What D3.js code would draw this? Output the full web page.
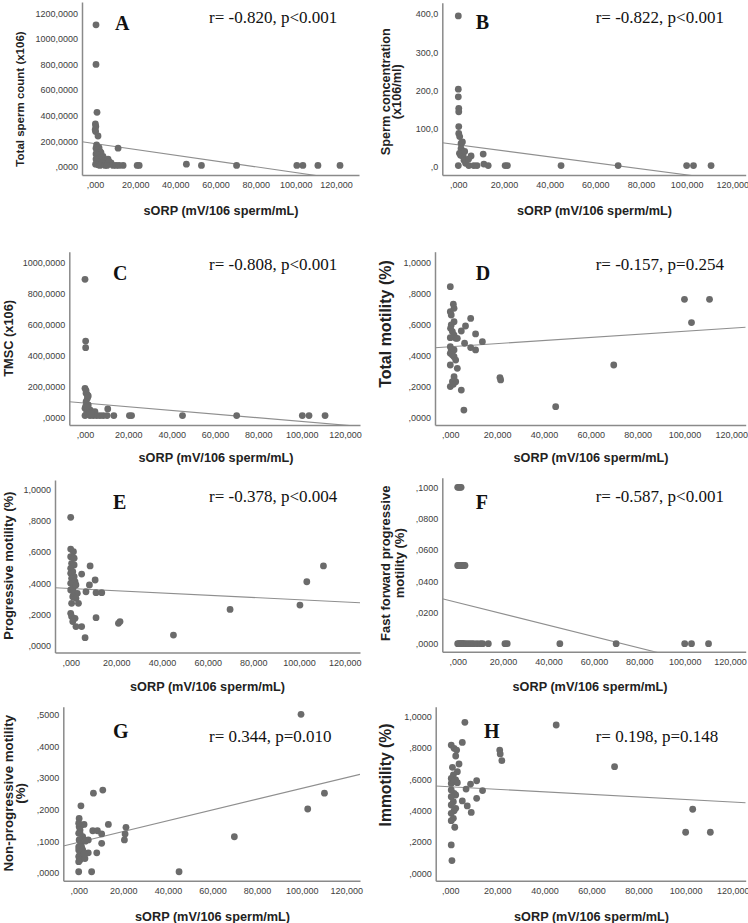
<!DOCTYPE html>
<html><head><meta charset="utf-8">
<script src="https://cdn.jsdelivr.net/npm/d3@7"></script>
<style>
html,body{margin:0;padding:0;background:#fff;}
svg{display:block;}
</style></head>
<body>
<svg id="chart" width="748" height="923"></svg>
<script>
// ---------------- DATA ----------------
const xTicks = [0, 20, 40, 60, 80, 100, 120];
const xTitle = "sORP (mV/106 sperm/mL)";

const panelIds = ["A","B","C","D","E","F","G","H"];
const yTitles = {
  A: ["Total sperm count (x106)"],
  B: ["Sperm concentration", "(x106/ml)"],
  C: ["TMSC (x106)"],
  D: ["Total motility (%)"],
  E: ["Progressive motility (%)"],
  F: ["Fast forward progressive", "motility (%)"],
  G: ["Non-progressive motility", "(%)"],
  H: ["Immotility (%)"]
};
const statLabels = {
  A: "r= -0.820, p<0.001", B: "r= -0.822, p<0.001",
  C: "r= -0.808, p<0.001", D: "r= -0.157, p=0.254",
  E: "r= -0.378, p<0.004", F: "r= -0.587, p<0.001",
  G: "r= 0.344, p=0.010",  H: "r= 0.198, p=0.148"
};
const yTicksA = [0,200,400,600,800,1000,1200];
const yTicksB = [0,100,200,300,400];
const yTicksC = [0,200,400,600,800,1000];
const yTicksD = [0,0.2,0.4,0.6,0.8,1.0];
const yTicksE = [0,0.2,0.4,0.6,0.8,1.0];
const yTicksF = [0,0.02,0.04,0.06,0.08,0.10];
const yTicksG = [0,0.1,0.2,0.3,0.4,0.5];
const yTicksH = [0,0.2,0.4,0.6,0.8,1.0];

// fit line: [intercept, slope]
const fitA = [180.9, -2.271];
const fitB = [57.4, -0.788];
const fitC = [92.0, -1.1886];
const fitD = [0.457, 0.000992];
const fitE = [0.3659, -0.000718];
const fitF = [0.02628, -0.0003625];
const fitG = [0.0965, 0.001708];
const fitH = [0.5525, -0.00081];

const pointsA = [[0.5,1110],[0.5,800],[1.0,425],[0.2,335],[0.4,315],[0.1,290],[0.3,275],[1.5,240],[0.8,170],[2,150],[0.5,145],[1,130],[2.5,120],[3,110],[0.5,100],[1.5,90],[4,80],[3,70],[0.5,60],[2,55],[5,50],[6.5,60],[7,40],[1,40],[3.5,30],[8,30],[0.3,20],[1.5,15],[2.5,10],[5,10],[6,10],[9,10],[10.5,10],[12,10],[14,10],[11.5,145],[21,10],[22,10],[45.5,20],[53,10],[70.5,10],[100.5,10],[103.5,10],[111,10],[122,10]];
const pointsB = [[0,395],[0,203],[0,183],[0.2,153],[0.2,144],[0.2,105],[0.2,87],[0.6,79],[1.2,61],[1.8,65],[1.2,48],[1.8,39],[2.2,26],[2.5,17],[3.2,9],[5.6,28],[4.5,20],[1,30],[0.5,35],[2.8,40],[10.9,33],[0,3],[4.6,3],[6.8,3],[8.2,3],[11.2,7],[13.1,3],[20.5,3],[21.5,3],[45,3],[70,3],[100,3],[103,3],[110.7,3]];
const pointsC = [[0,890],[0.3,492],[0.3,449],[0,187],[0.5,172],[0.5,155],[1.1,144],[1.5,138],[1.1,123],[0.5,101],[1.5,80],[0,58],[1.1,47],[2.3,47],[3.1,37],[4.6,37],[10.5,54],[0,11],[2.3,11],[3.8,11],[5.4,11],[6.9,11],[8.4,11],[10.2,11],[13.3,11],[20.5,11],[21.5,11],[45,11],[70,11],[100.3,11],[103.4,11],[110.8,11],[0.3,70],[0.8,30],[1.5,20],[2,25],[3,20]];
const pointsD = [[0,0.843],[1.3,0.730],[1.6,0.704],[0,0.682],[0.4,0.661],[1.6,0.618],[0.4,0.597],[0.1,0.575],[0.9,0.554],[1.6,0.532],[0,0.515],[2.3,0.511],[3,0.511],[8.7,0.639],[6.5,0.590],[4.7,0.558],[10.8,0.539],[13.7,0.489],[6.1,0.479],[8.7,0.451],[10.8,0.436],[0,0.457],[0.4,0.436],[1.6,0.436],[0,0.414],[0.9,0.403],[1.6,0.393],[2.3,0.371],[3,0.318],[0,0.339],[1.6,0.264],[2.3,0.232],[0.9,0.232],[0,0.2],[1.3,0.215],[4.7,0.178],[5.8,0.049],[21.2,0.258],[21.5,0.243],[45,0.071],[69.8,0.339],[100,0.762],[103,0.612],[110.7,0.762]];
const pointsE = [[0,0.821],[0,0.618],[1.2,0.601],[0,0.569],[1.5,0.559],[0.4,0.527],[1.5,0.516],[0,0.495],[0.9,0.473],[0,0.463],[1.5,0.441],[0.4,0.431],[1.9,0.409],[0,0.399],[1.2,0.377],[2.3,0.388],[0,0.356],[1.2,0.345],[2.9,0.335],[0.9,0.313],[2.3,0.303],[3.4,0.271],[0.4,0.271],[0,0.207],[0.4,0.186],[1.9,0.175],[0.9,0.154],[2.3,0.122],[4.8,0.122],[6.3,0.051],[4.8,0.458],[8.5,0.510],[8.2,0.388],[10.7,0.420],[6.7,0.345],[11.1,0.339],[13.6,0.339],[11.1,0.179],[20.9,0.143],[21.6,0.154],[45,0.068],[69.8,0.232],[100.4,0.260],[103.4,0.409],[110.7,0.510]];
const pointsF = [[0,0.1],[0.5,0.1],[1,0.1],[1.5,0.1],[0,0.05],[0.4,0.05],[0.8,0.05],[1.2,0.05],[1.6,0.05],[2,0.05],[2.6,0.05],[3.2,0.05],[0,0],[0.5,0],[1,0],[1.5,0],[2,0],[2.5,0],[3,0],[4,0],[5,0],[6,0],[7,0],[8.5,0],[10,0],[11,0],[13.5,0],[20.8,0],[21.8,0],[45,0],[69.8,0],[100,0],[103,0],[110.5,0]];
const pointsG = [[99.7,0.502],[102.7,0.202],[110.2,0.252],[69.8,0.114],[45,0.003],[6.6,0.252],[10.8,0.262],[1.0,0.212],[0.2,0.172],[13.3,0.153],[21.2,0.144],[20.8,0.123],[20.5,0.104],[6.3,0.133],[8.4,0.133],[10.3,0.123],[10.3,0.093],[4.3,0.104],[8.1,0.063],[4.3,0.063],[5.8,0.003],[0,0.003],[0.2,0.146],[1.3,0.151],[2.4,0.153],[0.6,0.135],[0,0.125],[1.8,0.114],[0.2,0.104],[0.9,0.093],[0,0.082],[1.3,0.082],[0,0.072],[0.6,0.061],[2.1,0.056],[0,0.051],[0.6,0.040],[0,0.035],[2.8,0.045],[1.8,0.072],[0,0.157],[0.6,0.125],[2.4,0.06],[3,0.1]];
const pointsH = [[6.2,0.964],[45,0.947],[5.1,0.836],[0.4,0.819],[1.6,0.798],[2.7,0.787],[21,0.787],[21.2,0.762],[21.9,0.719],[2.3,0.749],[3.7,0.698],[0.9,0.677],[69.8,0.681],[3,0.649],[1.3,0.628],[0.4,0.606],[2.3,0.596],[0.4,0.574],[1.6,0.585],[3,0.579],[11.2,0.591],[8.6,0.570],[6.7,0.538],[13.7,0.528],[11.2,0.479],[5.1,0.462],[7.2,0.430],[8.9,0.389],[0.4,0.532],[1.6,0.511],[2.3,0.5],[0.4,0.489],[1.3,0.457],[0.4,0.436],[2.3,0.415],[1.6,0.4],[0.4,0.383],[1.3,0.351],[0.4,0.336],[1.9,0.294],[0.4,0.181],[0.7,0.081],[100,0.262],[103,0.409],[110.5,0.262]];

const panelData = {
  A:{pts:pointsA, fit:fitA, yTicks:yTicksA, dec:4},
  B:{pts:pointsB, fit:fitB, yTicks:yTicksB, dec:1},
  C:{pts:pointsC, fit:fitC, yTicks:yTicksC, dec:4},
  D:{pts:pointsD, fit:fitD, yTicks:yTicksD, dec:4},
  E:{pts:pointsE, fit:fitE, yTicks:yTicksE, dec:4},
  F:{pts:pointsF, fit:fitF, yTicks:yTicksF, dec:4},
  G:{pts:pointsG, fit:fitG, yTicks:yTicksG, dec:4},
  H:{pts:pointsH, fit:fitH, yTicks:yTicksH, dec:4}
};

// ---------------- LAYOUT ----------------
// plot box, pixel anchors for x=0 / x=120 and y=0 / y=yRefVal
const layout = {
  A:{left:82,  right:359,  top:2,     bottom:175,   x0:95,    x120:336,   y0:166.7, yRef:13.3,  yRefVal:1200,
     letter:[115,30],  stat:[209,22.7], yt:[[20,99]], ytSize:11.5, xt:[221,210.7]},
  B:{left:442.3, right:745.7, top:2.7, bottom:175,  x0:458.3, x120:732.3, y0:166.7, yRef:14,    yRefVal:400,
     letter:[475.7,29.3], stat:[595.7,22.7], yt:[[385.7,91.7],[396.7,91.7]], ytSize:12.7, xt:[594.5,210.7]},
  C:{left:69.3, right:360,  top:251.7, bottom:425,  x0:85,    x120:345,   y0:417.3, yRef:262.3, yRefVal:1000,
     letter:[113,280], stat:[209,270], yt:[[8.3,338.3]], ytSize:12.8, xt:[216,458]},
  D:{left:435, right:745.7, top:251.7, bottom:425,  x0:450.3, x120:731.3, y0:417.7, yRef:262.3, yRefVal:1,
     letter:[475.7,280], stat:[595.7,270], yt:[[385.7,324]], ytSize:16, xt:[591,458]},
  E:{left:55,  right:360,  top:480,   bottom:652.5, x0:70.7,  x120:344.7, y0:645.7, yRef:489.3, yRefVal:1,
     letter:[113,509.3], stat:[209,501.7], yt:[[8.3,565.7]], ytSize:13, xt:[207.5,686.7]},
  F:{left:442.3, right:745.7, top:477.7, bottom:651.7, x0:457.7, x120:730.1, y0:643.7, yRef:487.3, yRefVal:0.1,
     letter:[475.7,509.3], stat:[595.7,501.7], yt:[[385.7,563.3],[399,563.3]], ytSize:13, xt:[590,686.7]},
  G:{left:63.3, right:360, top:706.7, bottom:880.7, x0:78.7,  x120:346.3, y0:872.7, yRef:715,   yRefVal:0.5,
     letter:[113,737.7], stat:[209,741.7], yt:[[8.3,793.3],[20,793.3]], ytSize:13.3, xt:[212.5,916.7]},
  H:{left:435.7, right:745.7, top:706.7, bottom:880.7, x0:450.3, x120:732.7, y0:873.3, yRef:716.7, yRefVal:1,
     letter:[484,737.7], stat:[595.7,741.7], yt:[[385.7,775]], ytSize:15.7, xt:[591.5,916.7]}
};

// SPSS-style number format (comma decimal, no leading zero)
function spss(v, dec){
  let s = Math.abs(v).toFixed(dec).replace(".", ",");
  if (s.startsWith("0,")) s = s.slice(1);
  return (v < 0 ? "-" : "") + s;
}

const svg = d3.select("#chart");
const SANS = "'Liberation Sans', Arial, sans-serif";
const SERIF = "'Liberation Serif', 'Times New Roman', serif";

panelIds.forEach(id => {
  const L = layout[id], D = panelData[id];
  const g = svg.append("g");

  const x = d3.scaleLinear().domain([0,120]).range([L.x0, L.x120]);
  x.domain([x.invert(L.left), x.invert(L.right)]).range([L.left, L.right]);
  const y = d3.scaleLinear().domain([0, L.yRefVal]).range([L.y0, L.yRef]);
  y.domain([y.invert(L.bottom), y.invert(L.top)]).range([L.bottom, L.top]);

  // clip
  const clipId = "clip" + id;
  svg.append("clipPath").attr("id", clipId).append("rect")
    .attr("x", L.left).attr("y", L.top).attr("width", L.right - L.left).attr("height", L.bottom - L.top);

  // fit line
  const xd = x.domain();
  g.append("line")
    .attr("clip-path", `url(#${clipId})`)
    .attr("x1", x(xd[0])).attr("y1", y(D.fit[0] + D.fit[1]*xd[0]))
    .attr("x2", x(xd[1])).attr("y2", y(D.fit[0] + D.fit[1]*xd[1]))
    .attr("stroke", "#8f8f8f").attr("stroke-width", 1.1);

  // points
  g.append("g").selectAll("circle").data(D.pts).join("circle")
    .attr("cx", d => x(d[0])).attr("cy", d => y(d[1])).attr("r", 3.4)
    .attr("fill", "#6b6b6b");

  // axes
  const xa = g.append("g").attr("transform", `translate(0,${L.bottom})`)
    .call(d3.axisBottom(x).tickValues(xTicks).tickSize(0).tickSizeOuter(0).tickPadding(7)
      .tickFormat(v => spss(v, 3)));
  const ya = g.append("g").attr("transform", `translate(${L.left},0)`)
    .call(d3.axisLeft(y).tickValues(D.yTicks).tickSize(0).tickSizeOuter(0).tickPadding(4)
      .tickFormat(v => spss(v, D.dec)));
  [xa, ya].forEach(a => {
    a.select(".domain").attr("stroke", "#8a8a8a").attr("stroke-width", 1.5);
    a.selectAll("text").attr("font-family", SANS).attr("font-size", 9).attr("fill", "#3d3d3d");
  });

  // titles
  g.append("text").attr("x", L.xt[0]).attr("y", L.xt[1]).attr("text-anchor", "middle")
    .attr("dominant-baseline", "central").attr("font-family", SANS).attr("font-weight", "bold")
    .attr("font-size", 12.7).attr("fill", "#222").text(xTitle);
  yTitles[id].forEach((t, i) => {
    const p = L.yt[i];
    g.append("text").attr("transform", `translate(${p[0]},${p[1]}) rotate(-90)`)
      .attr("text-anchor", "middle").attr("dominant-baseline", "central")
      .attr("font-family", SANS).attr("font-weight", "bold").attr("font-size", L.ytSize)
      .attr("fill", "#222").text(t);
  });

  // panel letter and statistics
  g.append("text").attr("x", L.letter[0]).attr("y", L.letter[1])
    .attr("font-family", SERIF).attr("font-weight", "bold").attr("font-size", 20)
    .attr("fill", "#111").text(id);
  g.append("text").attr("x", L.stat[0]).attr("y", L.stat[1])
    .attr("font-family", SERIF).attr("font-size", 17).attr("fill", "#111").text(statLabels[id]);
});
</script>
</body></html>
